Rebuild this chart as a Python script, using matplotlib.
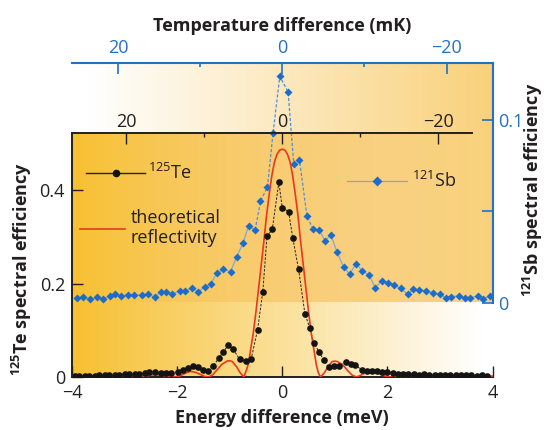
import numpy as np
import matplotlib
matplotlib.use("Agg")
import matplotlib.pyplot as plt
from matplotlib.lines import Line2D

plt.rcParams["font.family"] = ["Open Sans", "DejaVu Sans"]
plt.rcParams["mathtext.fontset"] = "custom"
plt.rcParams["mathtext.rm"] = "Open Sans"
plt.rcParams["mathtext.bf"] = "Open Sans:bold"

# 125Te spectral efficiency vs energy difference (meV)
te_E = [-3.95, -3.86, -3.76, -3.67, -3.57, -3.48, -3.38, -3.29, -3.19, -3.10,
        -3.00, -2.91, -2.81, -2.72, -2.62, -2.53, -2.43, -2.31, -2.21, -2.12,
        -1.99, -1.89, -1.80, -1.70, -1.61, -1.51, -1.41, -1.31, -1.21, -1.12,
        -1.03, -0.93, -0.81, -0.69, -0.59, -0.47, -0.37, -0.29, -0.19, -0.065,
        0.0, 0.12, 0.20, 0.31, 0.43, 0.52, 0.60, 0.70, 0.79, 0.88,
        0.99, 1.08, 1.21, 1.31, 1.39, 1.52, 1.61, 1.70, 1.80, 1.90,
        2.00, 2.11, 2.20, 2.30, 2.40, 2.50, 2.60, 2.70, 2.80, 2.90,
        3.00, 3.10, 3.20, 3.30, 3.40, 3.50, 3.60, 3.70, 3.80, 3.90]
te_eff = [0.003, 0.003, 0.002, 0.003, 0.003, 0.004, 0.004, 0.004, 0.005, 0.005,
          0.006, 0.006, 0.006, 0.006, 0.008, 0.010, 0.010, 0.008, 0.008, 0.008,
          0.011, 0.016, 0.020, 0.023, 0.022, 0.015, 0.013, 0.024, 0.040, 0.054,
          0.068, 0.059, 0.038, 0.034, 0.039, 0.101, 0.183, 0.301, 0.316, 0.417,
          0.363, 0.354, 0.298, 0.231, 0.136, 0.106, 0.073, 0.054, 0.036, 0.021,
          0.023, 0.023, 0.033, 0.027, 0.025, 0.015, 0.013, 0.012, 0.012, 0.011,
          0.010, 0.008, 0.007, 0.007, 0.006, 0.006, 0.005, 0.006, 0.005, 0.005,
          0.005, 0.004, 0.005, 0.004, 0.004, 0.004, 0.004, 0.003, 0.004, 0.003]

# theoretical reflectivity curve (meV, efficiency)
th_E = [-4.0, -3.6, -3.3, -3.1, -2.95, -2.8, -2.65, -2.5, -2.4, -2.3,
        -2.2, -2.1, -2.02, -1.95, -1.85, -1.75, -1.65, -1.55, -1.47, -1.4,
        -1.33, -1.25, -1.15, -1.05, -1.0, -0.95, -0.87, -0.8, -0.73, -0.68,
        -0.64, -0.6, -0.55, -0.5, -0.45, -0.4, -0.35, -0.3, -0.25, -0.2,
        -0.15, -0.1, -0.05, 0.0, 0.05, 0.1, 0.15, 0.2, 0.25, 0.3,
        0.35, 0.4, 0.45, 0.5, 0.55, 0.6, 0.65, 0.69, 0.73, 0.8,
        0.87, 0.95, 1.0, 1.05, 1.15, 1.25, 1.33, 1.41, 1.5, 1.6,
        1.7, 1.8, 1.9, 2.0, 2.1, 2.2, 2.3, 2.4, 2.5, 2.65,
        2.8, 2.95, 3.1, 3.3, 3.6, 4.0]
th_R = [0.002, 0.001, 0.002, 0.0005, 0.002, 0.003, 0.001, 0.004, 0.005, 0.004,
        0.002, 0.0005, 0.0, 0.002, 0.008, 0.012, 0.010, 0.005, 0.001, 0.0,
        0.004, 0.014, 0.027, 0.034, 0.035, 0.033, 0.022, 0.009, 0.0, 0.015,
        0.03, 0.06, 0.095, 0.14, 0.19, 0.24, 0.29, 0.345, 0.39, 0.43,
        0.46, 0.477, 0.486, 0.488, 0.486, 0.477, 0.46, 0.43, 0.39, 0.345,
        0.29, 0.24, 0.19, 0.14, 0.095, 0.06, 0.025, 0.008, 0.0, 0.009,
        0.022, 0.033, 0.034, 0.033, 0.026, 0.013, 0.004, 0.0, 0.004, 0.010,
        0.012, 0.009, 0.004, 0.0005, 0.0, 0.002, 0.004, 0.005, 0.004, 0.001,
        0.003, 0.002, 0.0005, 0.002, 0.001, 0.002]

# 121Sb spectral efficiency vs temperature difference (mK)
sb_T = [25.0, 24.2, 23.35, 22.5, 21.8, 21.0, 20.4, 19.6, 18.8, 18.0,
        17.1, 16.4, 15.5, 14.8, 14.1, 13.4, 12.5, 11.9, 10.95, 10.2,
        9.45, 8.72, 8.0, 7.17, 6.28, 5.55, 4.78, 4.1, 3.3, 2.65,
        1.8, 1.12, 0.3, -0.71, -1.4, -2.1, -3.0, -3.72, -4.49, -5.22,
        -5.91, -6.65, -7.46, -8.2, -9.0, -9.75, -10.6, -11.3, -12.1, -12.9,
        -13.6, -14.4, -15.3, -15.95, -16.7, -17.5, -18.3, -19.2, -19.9, -20.6,
        -21.5, -22.2, -22.9, -23.8, -24.4, -25.3]
sb_eff = [0.0023, 0.0032, 0.0018, 0.0032, 0.0018, 0.0036, 0.0045, 0.0037, 0.0041, 0.0041,
          0.0041, 0.0045, 0.0029, 0.0059, 0.0059, 0.0047, 0.0065, 0.0065, 0.0078, 0.0059,
          0.0087, 0.0100, 0.0160, 0.0182, 0.0169, 0.0252, 0.0325, 0.0420, 0.0398, 0.0554,
          0.0636, 0.0930, 0.1240, 0.1155, 0.0761, 0.0779, 0.0477, 0.0404, 0.0398, 0.0338,
          0.0371, 0.0279, 0.0195, 0.0157, 0.0212, 0.0173, 0.0150, 0.0082, 0.0118, 0.0109,
          0.0096, 0.0078, 0.0045, 0.0072, 0.0069, 0.0065, 0.0051, 0.0045, 0.0026, 0.0032,
          0.0037, 0.0026, 0.0026, 0.0036, 0.0019, 0.0036]
sb_dash = (28, 37)  # central points joined with a dashed line

MEV_PER_MK = 0.1486  # scale of the inner temperature axis

DARK = "#231f20"
BLUE = "#2271c3"
RED = "#e8381f"
LABEL_FS = 13
TICK_FS = 13

W, H = 547, 430
fig = plt.figure(figsize=(W / 100, H / 100), dpi=100)

# axes boxes in pixels: x0, y_top, x1, y_bottom
te_box = (72, 133.3, 492.5, 377)
sb_box = (72, 62.7, 492.5, 302.5)


def fig_rect(box):
    x0, yt, x1, yb = box
    return [x0 / W, (H - yb) / H, (x1 - x0) / W, (yb - yt) / H]


# background: gold->white under Te panel, white->amber under Sb panel (multiplied)
img = np.ones((H, W, 3))
xs = np.arange(W) + 0.5
gold = np.array([247, 192, 49]) / 255
amber = np.array([249, 209, 122]) / 255
t = np.clip((xs - te_box[0]) / (482 - te_box[0]), 0, 1)[:, None]
te_grad = gold * (1 - t) + t
s = np.clip((xs - 88) / (sb_box[2] - 88), 0, 1)[:, None]
sb_grad = (1 - s) + amber * s
img[int(te_box[1]):int(te_box[3]), int(te_box[0]):int(te_box[2])] *= te_grad[int(te_box[0]):int(te_box[2])]
img[int(sb_box[1]):int(sb_box[3]), int(sb_box[0]):int(sb_box[2])] *= sb_grad[int(sb_box[0]):int(sb_box[2])]

bg = fig.add_axes([0, 0, 1, 1], zorder=0)
bg.imshow(img, extent=(0, W, H, 0), interpolation="bilinear", aspect="auto")
bg.set_xlim(0, W)
bg.set_ylim(H, 0)
bg.axis("off")

# --- 121Sb panel (blue axes, top and right) ---
axs = fig.add_axes(fig_rect(sb_box), zorder=2)
axs.patch.set_visible(False)
i0, i1 = sb_dash
axs.plot(sb_T[:i0 + 1], sb_eff[:i0 + 1], color="#78aae0", lw=0.9)
axs.plot(sb_T[i1:], sb_eff[i1:], color="#78aae0", lw=0.9)
axs.plot(sb_T[i0:i1 + 1], sb_eff[i0:i1 + 1], color="#4f8fd6", lw=0.9, ls=(0, (2.5, 1.5)))
axs.plot(sb_T, sb_eff, "D", ms=4.3, color="#1c6dc9", mec="none")
axs.set_xlim(25.6, -25.6)
axs.set_ylim(0, 0.1315)
for side in ("left", "bottom"):
    axs.spines[side].set_visible(False)
for side in ("top", "right"):
    axs.spines[side].set_color(BLUE)
    axs.spines[side].set_linewidth(1.5)
axs.xaxis.tick_top()
axs.set_xticks([20, 0, -20], ["20", "0", "\u221220"])
axs.set_xticks([10, -10], minor=True)
axs.yaxis.tick_right()
axs.set_yticks([0, 0.05, 0.1], ["0", "", "0.1"])
axs.tick_params(which="both", direction="in", colors=BLUE, width=1.2, labelsize=TICK_FS)
axs.tick_params(axis="x", which="major", length=8, pad=4)
axs.tick_params(axis="x", which="minor", length=3)
axs.tick_params(axis="y", length=8, pad=4)
axs.xaxis.set_label_position("top")
axs.set_xlabel("Temperature difference (mK)", fontsize=LABEL_FS, fontweight="bold",
               color=DARK, labelpad=6)
axs.yaxis.set_label_position("right")
axs.set_ylabel(r"$^{\mathbf{121}}$Sb spectral efficiency", fontsize=LABEL_FS,
               fontweight="bold", color=DARK)
axs.yaxis.set_label_coords(1.068, 0.47)
axs.legend(handles=[Line2D([], [], color="#78aae0", lw=0.9, marker="D", ms=5,
                           mfc="#1c6dc9", mec="none", label=r"$^{121}$Sb")],
           loc="center left", bbox_to_anchor=(0.654, 0.507), frameon=False,
           borderpad=0, borderaxespad=0, handlelength=3.3, handletextpad=0.3,
           fontsize=TICK_FS, labelcolor=DARK)

# --- 125Te panel (black axes, bottom and left) ---
ax = fig.add_axes(fig_rect(te_box), zorder=3)
ax.patch.set_visible(False)
ax.plot(te_E, te_eff, color="#222222", lw=0.7, ls=(0, (2.5, 1.5)), zorder=2)
ax.plot(th_E, th_R, color=RED, lw=1.2, zorder=3)
ax.plot(te_E, te_eff, "o", ms=4.8, color="#141414", mec="none", zorder=4)
ax.set_xlim(-4, 4)
ax.set_ylim(0, 0.522)
ax.spines["right"].set_visible(False)
ax.spines["top"].set_visible(False)
for side in ("left", "bottom"):
    ax.spines[side].set_color(DARK)
    ax.spines[side].set_linewidth(1.4)
ax.set_xticks([-4, -2, 0, 2, 4], ["\u22124", "\u22122", "0", "2", "4"])
ax.set_yticks([0, 0.2, 0.4], ["0", "0.2", "0.4"])
ax.tick_params(direction="in", length=8, width=1, colors=DARK, labelsize=TICK_FS, pad=5)
ax.set_xlabel("Energy difference (meV)", fontsize=LABEL_FS, fontweight="bold",
              color=DARK, labelpad=5)
ax.set_ylabel(r"$^{\mathbf{125}}$Te spectral efficiency", fontsize=LABEL_FS,
              fontweight="bold", color=DARK)
ax.yaxis.set_label_coords(-0.09, 0.443)

leg_te = ax.legend(handles=[Line2D([], [], color="#222222", lw=1.0, marker="o", ms=5.5,
                                   mfc="#141414", mec="none", label=r"$^{125}$Te")],
                   loc="center left", bbox_to_anchor=(0.033, 0.837), frameon=False,
                   borderpad=0, borderaxespad=0, handlelength=3.3, handletextpad=0.15,
                   fontsize=TICK_FS, labelcolor=DARK)
ax.add_artist(leg_te)
ax.legend(handles=[Line2D([], [], color=RED, lw=1.2, label="theoretical\nreflectivity")],
          loc="center left", bbox_to_anchor=(0.019, 0.611), frameon=False,
          borderpad=0, borderaxespad=0, handlelength=2.5, handletextpad=0.3,
          fontsize=TICK_FS, labelcolor=DARK, labelspacing=0.2)

# inner temperature scale along the top of the Te panel
axt = ax.twiny()
axt.set_zorder(4)
axt.patch.set_visible(False)
axt.set_xlim(4 / MEV_PER_MK, -4 / MEV_PER_MK)
for side in ("left", "right", "bottom"):
    axt.spines[side].set_visible(False)
axt.spines["top"].set_color(DARK)
axt.spines["top"].set_linewidth(1.4)
axt.spines["top"].set_bounds(4 / MEV_PER_MK, -3.61 / MEV_PER_MK)
axt.set_xticks([20, 0, -20], ["20", "0", "\u221220"])
axt.set_xticks([10, -10], minor=True)
axt.tick_params(which="both", direction="in", colors=DARK, width=1, labelsize=TICK_FS)
axt.tick_params(which="major", length=8, pad=2)
axt.tick_params(which="minor", length=3)

fig.savefig("out.png", dpi=100)
